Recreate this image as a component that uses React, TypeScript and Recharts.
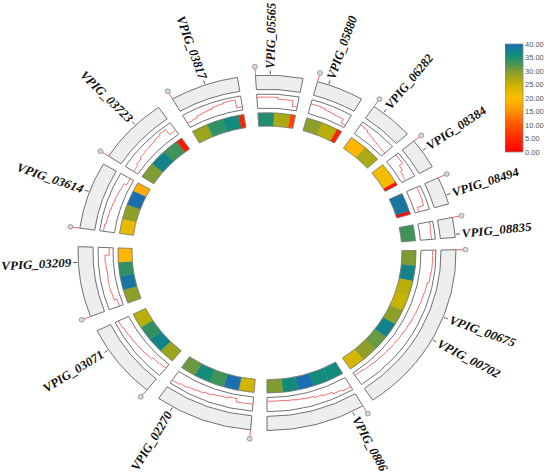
import React from "react";
import { PieChart, Pie, Cell, BarChart, Bar, XAxis, YAxis } from "recharts";

// segments in clockwise order starting at the top
const SEGMENT_KEYS = ["05565", "05880", "06282", "08384", "08494", "08835", "00675", "0886", "02270", "03071", "03209", "03614", "03723", "03817"];
const SEGMENT_SPANS = [14.5, 14.5, 13.5, 10, 9, 6.5, 57, 30.5, 30, 24.5, 23, 22, 22, 21];
// gap after each segment (degrees)
const SEGMENT_GAPS = [4.5, 4.5, 3, 4, 4.5, 4, 3.5, 5, 4.5, 5, 6, 3, 5, 5.5];

// heatmap bins per segment (value 0-40) and their relative widths
const HEAT_VALUES = [
  [35, 27, 8],
  [29, 26, 4],
  [19, 27],
  [21, 2],
  [39, 1],
  [33],
  [30, 37, 26, 25, 29, 37, 31, 29, 24],
  [36, 36, 40, 36, 30],
  [24, 40, 33, 36, 31],
  [28, 37, 34, 26],
  [29, 39, 34, 19],
  [22, 29, 40, 18],
  [30, 37, 33, 3],
  [28, 34, 36, 4],
];
const HEAT_WIDTHS = [
  [1, 1, 0.3],
  [1, 1, 0.3],
  [1, 1],
  [1, 0.15],
  [1, 0.15],
  [1],
  [1, 1, 1, 1, 1, 1, 1, 1, 1],
  [1, 1, 1, 1, 1],
  [1, 1, 1, 1, 1],
  [1, 1, 1, 1],
  [1, 1, 1, 1],
  [1, 1, 1, 0.6],
  [1, 1, 1, 0.35],
  [1, 1, 1, 0.3],
];

// step-line track (0 = inner edge, 1 = outer edge)
const STEP_VALUES = [
  [0.85, 0.85, 0.85, 0.85, 0.7, 0.7, 0.7, 0.2],
  [0.75, 0.75, 0.7, 0.6, 0.55, 0.5, 0.5, 0.1],
  [0.8, 0.75, 0.6, 0.5, 0.4, 0.35, 0.3, 0.25],
  [0.85, 0.85, 0.5, 0.3, 0.25],
  [0.8, 0.8, 0.8, 0.75, 0.2],
  [0.85, 0.8, 0.8],
  [0.85, 0.85, 0.8, 0.65, 0.6, 0.55, 0.5, 0.45, 0.4, 0.35, 0.3, 0.25, 0.2, 0.15],
  [0.8, 0.7, 0.55, 0.45, 0.35, 0.3, 0.25, 0.2, 0.2],
  [0.5, 0.5, 0.2, 0.3, 0.35, 0.45, 0.55, 0.6, 0.7, 0.8],
  [0.3, 0.35, 0.5, 0.55, 0.6, 0.65, 0.7, 0.8],
  [0.2, 0.45, 0.5, 0.5, 0.45, 0.5, 0.55, 0.2],
  [0.8, 0.7, 0.65, 0.6, 0.55, 0.5, 0.45, 0.2],
  [0.3, 0.45, 0.55, 0.6, 0.65, 0.75, 0.85, 0.3],
  [0.3, 0.35, 0.5, 0.55, 0.6, 0.7, 0.75, 0.85, 0.85, 0.15],
];

// gene labels: segment index and position along the segment
const LABELS = [
  { name: "VPIG_05565", seg: 0, frac: 0.31 },
  { name: "VPIG_05880", seg: 1, frac: 0.24 },
  { name: "VPIG_06282", seg: 2, frac: 0.26 },
  { name: "VPIG_08384", seg: 3, frac: 0.4 },
  { name: "VPIG_08494", seg: 4, frac: 0.67 },
  { name: "VPIG_08835", seg: 5, frac: 0.85 },
  { name: "VPIG_00675", seg: 6, frac: 0.39 },
  { name: "VPIG_00702", seg: 6, frac: 0.53 },
  { name: "VPIG_0886", seg: 7, frac: 0.12 },
  { name: "VPIG_02270", seg: 8, frac: 0.83 },
  { name: "VPIG_03071", seg: 9, frac: 0.71 },
  { name: "VPIG_03209", seg: 10, frac: 0.78 },
  { name: "VPIG_03614", seg: 11, frac: 0.55 },
  { name: "VPIG_03723", seg: 12, frac: 0.59 },
  { name: "VPIG_03817", seg: 13, frac: 0.52 },
];

const COLOR_TICKS = [0, 5, 10, 15, 20, 25, 30, 35, 40];
const COLOR_STOPS: [number, string][] = [
  [0, "#ff0000"],
  [5, "#ff2a00"],
  [10, "#ff5500"],
  [15, "#ff9000"],
  [20, "#ffbf00"],
  [25, "#c8b400"],
  [30, "#809b34"],
  [33, "#3f945a"],
  [36, "#128a7c"],
  [40, "#1b6fae"],
];

const RAD = Math.PI / 180;
const polar = (cx: number, cy: number, r: number, a: number) => ({
  x: cx + r * Math.cos(-a * RAD),
  y: cy + r * Math.sin(-a * RAD),
});

const hex = (c: string) => [1, 3, 5].map((i) => parseInt(c.slice(i, i + 2), 16));
function heatColor(v: number) {
  for (let i = 1; i < COLOR_STOPS.length; i++) {
    const [v1, c1] = COLOR_STOPS[i];
    const [v0, c0] = COLOR_STOPS[i - 1];
    if (v <= v1) {
      const t = (v - v0) / (v1 - v0);
      const a = hex(c0), b = hex(c1);
      const m = a.map((x, k) => Math.round(x + (b[k] - x) * t));
      return `rgb(${m[0]},${m[1]},${m[2]})`;
    }
  }
  return COLOR_STOPS[COLOR_STOPS.length - 1][1];
}

const gap = (i: number) => ({ kind: "gap", value: SEGMENT_GAPS[i] });

const segData = SEGMENT_KEYS.flatMap((k, i) => [
  { kind: "seg", key: k, value: SEGMENT_SPANS[i], labels: LABELS.filter((l) => l.seg === i) },
  gap(i),
]);

const heatData = SEGMENT_KEYS.flatMap((k, i) => {
  const total = HEAT_WIDTHS[i].reduce((a, b) => a + b, 0);
  return [
    ...HEAT_VALUES[i].map((v, j) => ({
      kind: "cell",
      key: `${k}-${j}`,
      value: (SEGMENT_SPANS[i] * HEAT_WIDTHS[i][j]) / total,
      v,
    })),
    gap(i),
  ];
});

const stepData = SEGMENT_KEYS.flatMap((k, i) => {
  const steps = STEP_VALUES[i];
  return [
    ...steps.map((v, j) => ({
      kind: "step",
      key: `${k}-${j}`,
      value: SEGMENT_SPANS[i] / steps.length,
      v,
      prev: j > 0 ? steps[j - 1] : null,
    })),
    gap(i),
  ];
});

const CX = 267;
const CY = 269;
const START = 93.5;
const END = START - 360;
const NO_MARGIN = { top: 0, right: 0, bottom: 0, left: 0 };

const R_HEAT = [135, 149];
const R_STEP = [154, 169];
const R_OUT = [174, 189];

function SegmentLabel(props: any) {
  if (props.kind !== "seg") return null;
  const { cx, cy, startAngle, endAngle, labels } = props;
  const m0 = polar(cx, cy, R_OUT[1], startAngle);
  const m1 = polar(cx, cy, R_OUT[1] + 7, startAngle);
  const mc = polar(cx, cy, R_OUT[1] + 9.5, startAngle);
  return (
    <g>
      <line x1={m0.x} y1={m0.y} x2={m1.x} y2={m1.y} stroke="#f06060" strokeWidth={1} />
      <circle cx={mc.x} cy={mc.y} r={2.5} fill="#d8d8d8" stroke="#888" strokeWidth={0.8} />
      {labels.map((l: any) => {
        const a = startAngle + l.frac * (endAngle - startAngle);
        const right = Math.cos(a * RAD) >= 0;
        const t0 = polar(cx, cy, R_OUT[1] + 1, a);
        const t1 = polar(cx, cy, R_OUT[1] + 5, a);
        const p = polar(cx, cy, R_OUT[1] + 7, a);
        const rot = right ? -a : 180 - a;
        return (
          <g key={l.name}>
            <line x1={t0.x} y1={t0.y} x2={t1.x} y2={t1.y} stroke="#555" strokeWidth={1} />
            <text
              x={p.x}
              y={p.y}
              transform={`rotate(${rot} ${p.x} ${p.y})`}
              textAnchor={right ? "start" : "end"}
              dominantBaseline="central"
              fontFamily="'Liberation Serif', 'Times New Roman', serif"
              fontStyle="italic"
              fontWeight="bold"
              fontSize={13}
              fill="#111"
            >
              {l.name}
            </text>
          </g>
        );
      })}
    </g>
  );
}

function StepLine(props: any) {
  if (props.kind !== "step") return null;
  const { cx, cy, innerRadius: ir, outerRadius: or, startAngle, endAngle, v, prev } = props;
  const rr = (x: number) => ir + 1.5 + x * (or - ir - 3);
  const r = rr(v);
  const r0 = prev == null ? r : rr(prev);
  const p0 = polar(cx, cy, r0, startAngle);
  const p1 = polar(cx, cy, r, startAngle);
  const p2 = polar(cx, cy, r, endAngle);
  return (
    <path
      d={`M${p0.x},${p0.y}L${p1.x},${p1.y}A${r},${r} 0 0 1 ${p2.x},${p2.y}`}
      fill="none"
      stroke="#f26a6a"
      strokeWidth={1}
    />
  );
}

function ColorBar() {
  const data = [{ name: "scale", v: 40 }];
  return (
    <BarChart width={45} height={120} data={data} margin={{ top: 6, right: 0, bottom: 6, left: 0 }} barCategoryGap={0}>
      <defs>
        <linearGradient id="heatGrad" x1="0" y1="0" x2="0" y2="1">
          {[...COLOR_STOPS].reverse().map(([v, c]) => (
            <stop key={v} offset={`${(1 - v / 40) * 100}%`} stopColor={c} />
          ))}
        </linearGradient>
      </defs>
      <XAxis dataKey="name" hide />
      <YAxis
        orientation="right"
        domain={[0, 40]}
        ticks={COLOR_TICKS}
        width={27}
        axisLine={false}
        tickLine={false}
        tickSize={2}
        tickMargin={0}
        interval={0}
        tick={{ fontSize: 7.5, fill: "#555", fontFamily: "'Liberation Sans', Arial, sans-serif" }}
        tickFormatter={(v: number) => v.toFixed(2)}
      />
      <Bar dataKey="v" fill="url(#heatGrad)" stroke="#888" strokeWidth={0.8} isAnimationActive={false} />
    </BarChart>
  );
}

export default function App() {
  return (
    <div style={{ position: "fixed", left: 0, top: 0, width: 550, height: 476, background: "#fff", overflow: "hidden" }}>
      <div style={{ position: "absolute", left: 0, top: 0, transform: "scaleY(0.94)", transformOrigin: "0 0" }}>
        <PieChart width={550} height={506} margin={NO_MARGIN}>
          <Pie
            data={segData}
            dataKey="value"
            cx={CX}
            cy={CY}
            innerRadius={R_OUT[0]}
            outerRadius={R_OUT[1]}
            startAngle={START}
            endAngle={END}
            isAnimationActive={false}
            label={SegmentLabel}
            labelLine={false}
          >
            {segData.map((d, i) => (
              <Cell key={i} fill={d.kind === "seg" ? "#eeeeee" : "none"} stroke={d.kind === "seg" ? "#6b6b6b" : "none"} strokeWidth={1} />
            ))}
          </Pie>
          <Pie
            data={segData}
            dataKey="value"
            cx={CX}
            cy={CY}
            innerRadius={R_STEP[0]}
            outerRadius={R_STEP[1]}
            startAngle={START}
            endAngle={END}
            isAnimationActive={false}
          >
            {segData.map((d, i) => (
              <Cell key={i} fill={d.kind === "seg" ? "#ffffff" : "none"} stroke={d.kind === "seg" ? "#6b6b6b" : "none"} strokeWidth={1} />
            ))}
          </Pie>
          <Pie
            data={stepData}
            dataKey="value"
            cx={CX}
            cy={CY}
            innerRadius={R_STEP[0]}
            outerRadius={R_STEP[1]}
            startAngle={START}
            endAngle={END}
            isAnimationActive={false}
            label={StepLine}
            labelLine={false}
          >
            {stepData.map((d, i) => (
              <Cell key={i} fill="none" stroke="none" />
            ))}
          </Pie>
          <Pie
            data={heatData}
            dataKey="value"
            cx={CX}
            cy={CY}
            innerRadius={R_HEAT[0]}
            outerRadius={R_HEAT[1]}
            startAngle={START}
            endAngle={END}
            isAnimationActive={false}
          >
            {heatData.map((d: any, i) => (
              <Cell key={i} fill={d.kind === "cell" ? heatColor(d.v) : "none"} stroke={d.kind === "cell" ? heatColor(d.v) : "none"} strokeWidth={0.5} />
            ))}
          </Pie>
          <Pie
            data={segData}
            dataKey="value"
            cx={CX}
            cy={CY}
            innerRadius={R_HEAT[0]}
            outerRadius={R_HEAT[1]}
            startAngle={START}
            endAngle={END}
            isAnimationActive={false}
          >
            {segData.map((d, i) => (
              <Cell key={i} fill="none" stroke={d.kind === "seg" ? "#777" : "none"} strokeWidth={0.8} />
            ))}
          </Pie>
        </PieChart>
      </div>
      <div style={{ position: "absolute", left: 505, top: 38 }}>
        <ColorBar />
      </div>
    </div>
  );
}
